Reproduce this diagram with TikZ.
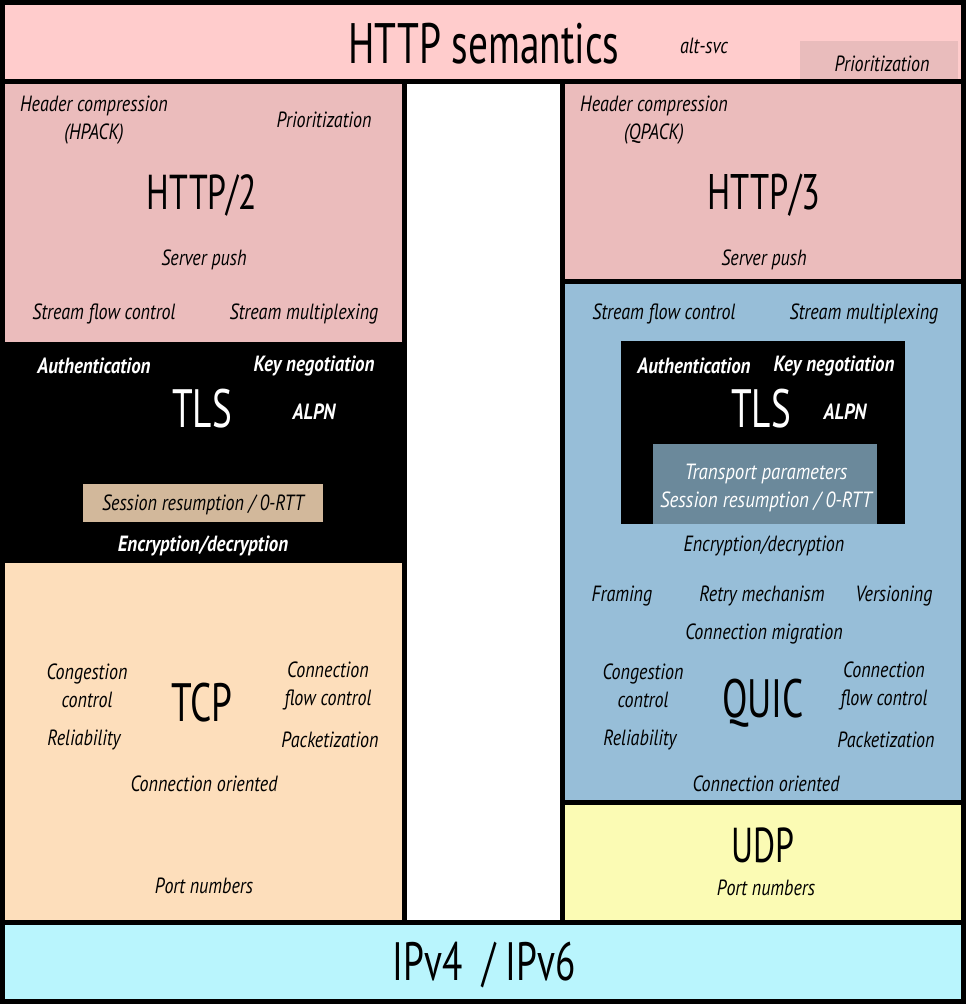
\documentclass[tikz,border=0pt]{standalone}
\usepackage{fontspec}
\setmainfont{PT Sans}[FakeStretch=0.82]
\newfontfamily\bigfont{PT Sans}[FakeStretch=0.69]
\newfontfamily\wfont{PT Sans}[FakeStretch=0.86]
\definecolor{semPink}{HTML}{FFCCCC}
\definecolor{prioPink}{HTML}{E9BCBC}
\definecolor{hPink}{HTML}{EBBCBC}
\definecolor{tcpPeach}{HTML}{FDDEBB}
\definecolor{sessTan}{HTML}{D2B89B}
\definecolor{quicBlue}{HTML}{97BED8}
\definecolor{transBlue}{HTML}{6B899B}
\definecolor{udpYellow}{HTML}{FBFBB4}
\definecolor{ipCyan}{HTML}{B9F5FD}
\begin{document}
\begin{tikzpicture}[x=1pt,y=-1pt,
  sm/.style={font=\itshape\fontsize{22}{27.5}\selectfont, inner sep=0pt, align=center, yshift=-2pt},
  smw/.style={font=\wfont\bfseries\itshape\fontsize{22}{27.5}\selectfont, text=white, inner sep=0pt, align=center, yshift=-2pt},
  big/.style={font=\bigfont\fontsize{#1}{#1}\selectfont, inner sep=0pt},
  border/.style={draw=black, line width=5pt}]
\useasboundingbox (0,0) rectangle (966,1004);
% fills
\fill[semPink] (2.5,2.5) rectangle (963.5,81);
\fill[prioPink] (800,41) rectangle (958,80);
\fill[hPink] (2.5,81) rectangle (404,342);
\fill[black] (2.5,342) rectangle (404,563);
\fill[sessTan] (83,484) rectangle (323,522);
\fill[tcpPeach] (2.5,563) rectangle (404,922.5);
\fill[white] (404,81) rectangle (562.5,922.5);
\fill[hPink] (562.5,81) rectangle (963.5,281.5);
\fill[quicBlue] (562.5,281.5) rectangle (963.5,802.5);
\fill[black] (621,341) rectangle (905,524);
\fill[transBlue] (653,444) rectangle (877,524);
\fill[udpYellow] (562.5,802.5) rectangle (963.5,922.5);
\fill[ipCyan] (2.5,922.5) rectangle (963.5,1001.5);
% borders
\draw[border] (2.5,2.5) rectangle (963.5,1001.5);
\draw[border] (2.5,81) -- (963.5,81);
\draw[border] (404,81) -- (404,922.5);
\draw[border] (562.5,81) -- (562.5,922.5);
\draw[border] (2.5,922.5) -- (963.5,922.5);
\draw[border] (562.5,281.5) -- (963.5,281.5);
\draw[border] (562.5,802.5) -- (963.5,802.5);
% top band
\node[big=57] (sem) at (484,44) {HTTP semantics};
\node[sm] (altsvc) at (704,44) {alt-svc};
\node[sm] (prio0) at (882,62) {Prioritization};
% HTTP/2
\node[sm] (hc2) at (94,118) {Header compression\\(HPACK)};
\node[sm] (prio2) at (324,118) {Prioritization};
\node[big=49] (h2) at (202,195) {HTTP/2};
\node[sm] (sp2) at (204,258) {Server push};
\node[sm] (sfc2) at (104,312) {Stream flow control};
\node[sm] (smx2) at (304,312) {Stream multiplexing};
% TLS left
\node[smw] (auth1) at (94,364) {Authentication};
\node[smw] (key1) at (314,364) {Key negotiation};
\node[big=54,text=white] (tls1) at (202,409) {TLS};
\node[smw] (alpn1) at (314,410) {ALPN};
\node[sm] (sess1) at (203,503) {Session resumption / 0-RTT};
\node[smw] (enc1) at (203,544) {Encryption/decryption};
% TCP
\node[sm] (cc1) at (87,684) {Congestion\\control};
\node[sm] (rel1) at (84,738) {Reliability};
\node[big=54] (tcp) at (202,703) {TCP};
\node[sm] (cfc1) at (328,684) {Connection\\flow control};
\node[sm] (pkt1) at (330,738) {Packetization};
\node[sm] (co1) at (204,782) {Connection oriented};
\node[sm] (port1) at (204,884) {Port numbers};
% HTTP/3
\node[sm] (hc3) at (654,118) {Header compression\\(QPACK)};
\node[big=50] (h3) at (764,195) {HTTP/3};
\node[sm] (sp3) at (764,258) {Server push};
% QUIC
\node[sm] (sfc3) at (664,312) {Stream flow control};
\node[sm] (smx3) at (864,312) {Stream multiplexing};
\node[smw] (auth2) at (694,364) {Authentication};
\node[smw] (key2) at (834,364) {Key negotiation};
\node[big=54,text=white] (tls2) at (761,409) {TLS};
\node[smw] (alpn2) at (845,410) {ALPN};
\node[smw,font=\wfont\itshape\fontsize{22}{27.5}\selectfont] (trans) at (766,486) {Transport parameters\\Session resumption / 0-RTT};
\node[sm] (enc2) at (764,544) {Encryption/decryption};
\node[sm] (frm) at (622,594) {Framing};
\node[sm] (retry) at (762,594) {Retry mechanism};
\node[sm] (ver) at (894,594) {Versioning};
\node[sm] (mig) at (764,632) {Connection migration};
\node[sm] (cc2) at (643,684) {Congestion\\control};
\node[sm] (rel2) at (640,738) {Reliability};
\node[big=54] (quic) at (763,703) {QUIC};
\node[sm] (cfc2) at (884,684) {Connection\\flow control};
\node[sm] (pkt2) at (886,738) {Packetization};
\node[sm] (co2) at (766,782) {Connection oriented};
% UDP
\node[big=49] (udp) at (763,845) {UDP};
\node[sm] (port2) at (766,886) {Port numbers};
% IP
\node[big=54] (ip) at (484,965) {IPv4 \ / IPv6};
\end{tikzpicture}
\end{document}
